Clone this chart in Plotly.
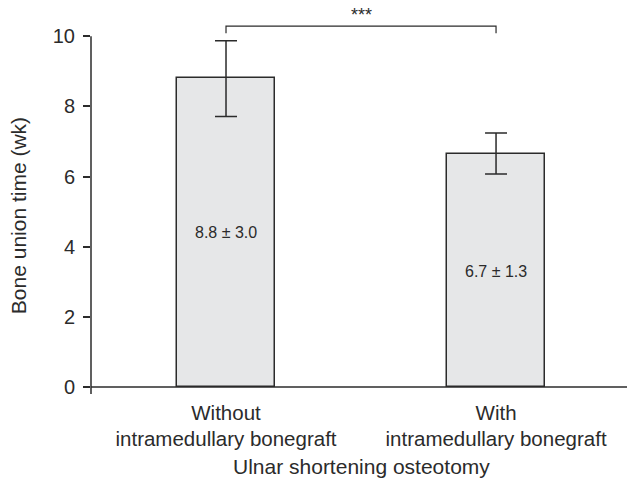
import plotly.graph_objects as go

categories = ["Without<br>intramedullary bonegraft", "With<br>intramedullary bonegraft"]
means = [8.8, 6.65]
err_plus = [1.07, 0.59]
err_minus = [1.09, 0.58]
bar_labels = ["8.8 ± 3.0", "6.7 ± 1.3"]
label_y = [4.4, 3.3]
bracket_y = [10.09, 10.29, 10.29, 10.09]
bracket_x = [0, 0, 1, 1]
sig_text = "***"
y_ticks = [0, 2, 4, 6, 8, 10]
x_title = "Ulnar shortening osteotomy"
y_title = "Bone union time (wk)"

ink = "#2b2b2b"
xpos = [0, 1]

fig = go.Figure()
fig.add_trace(go.Bar(
    x=xpos, y=means, width=0.366,
    marker=dict(color="#e6e7e8", line=dict(color=ink, width=1.5)),
    error_y=dict(type="data", symmetric=False, array=err_plus, arrayminus=err_minus,
                 color=ink, thickness=1.5, width=11),
    showlegend=False, hoverinfo="skip",
))
fig.add_trace(go.Scatter(
    x=bracket_x, y=bracket_y, mode="lines",
    line=dict(color=ink, width=1.2), showlegend=False, hoverinfo="skip",
))

for xi, t, yl in zip(xpos, bar_labels, label_y):
    fig.add_annotation(x=xi, y=yl, text=t, showarrow=False,
                       font=dict(size=16, color=ink), xanchor="center", yanchor="middle")
fig.add_annotation(x=0.5, y=10.62, text=sig_text, showarrow=False,
                   font=dict(size=18, color=ink), xanchor="center", yanchor="middle")

# axis titles
fig.add_annotation(xref="paper", yref="paper", x=0.504, y=-0.19, text=x_title,
                   showarrow=False, font=dict(size=21, color=ink),
                   xanchor="center", yanchor="middle")
fig.add_annotation(xref="paper", yref="paper", x=-0.134, y=0.4636, text=y_title,
                   showarrow=False, font=dict(size=21, color=ink), textangle=-90,
                   xanchor="center", yanchor="middle")

# y axis line from -0.2 to 10, x axis line at 0
fig.add_shape(type="line", xref="paper", yref="y", x0=0, x1=0, y0=-0.2, y1=10,
              line=dict(color=ink, width=1.5))
fig.add_shape(type="line", xref="paper", yref="y", x0=0, x1=1, y0=0, y1=0,
              line=dict(color=ink, width=1.5))

fig.update_layout(
    width=627, height=487,
    margin=dict(l=91, r=0, t=10, b=93),
    plot_bgcolor="white", paper_bgcolor="white",
    font=dict(family="Liberation Sans, Arial, sans-serif", color=ink),
    bargap=0,
)
fig.update_xaxes(
    range=[-0.5, 1.485], tickmode="array", tickvals=xpos, ticktext=categories,
    showgrid=False, zeroline=False, showline=False, ticks="outside", ticklen=0,
    tickcolor="rgba(0,0,0,0)", tickfont=dict(size=20.5), automargin=False,
)
fig.update_yaxes(
    range=[-0.2, 10.75], tickmode="array", tickvals=y_ticks,
    showgrid=False, zeroline=False, showline=False, ticks="outside", ticklen=7,
    tickcolor=ink, tickwidth=1.5, tickfont=dict(size=20), automargin=False,
    ticklabelstandoff=4,
)

fig.write_html("out.html", config={"displayModeBar": False},
               post_script="document.body.style.margin='0';")
